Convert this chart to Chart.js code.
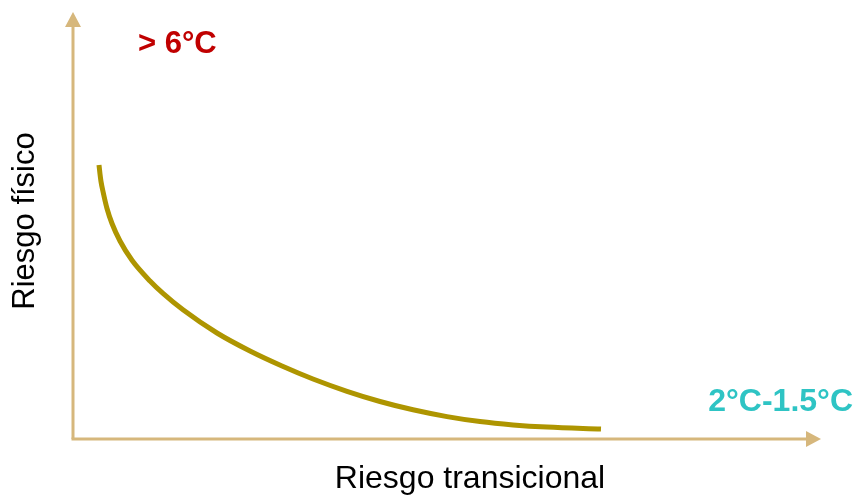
<!DOCTYPE html>
<html>
<head>
<meta charset="utf-8">
<script src="https://cdn.jsdelivr.net/npm/chart.js@4.4.0/dist/chart.umd.min.js"></script>
<style>
html,body{margin:0;padding:0;background:#fff;}
#wrap{width:854px;height:495px;position:relative;}
</style>
</head>
<body>
<div id="wrap"><canvas id="c" width="854" height="495"></canvas></div>
<script>
// Data (x: transition risk, y: physical risk, arbitrary units)
const riesgoTransicional = [26, 27, 28, 30, 34, 39, 47, 59, 77, 90, 110, 144, 177, 209, 240, 274, 307, 340, 374, 407, 440, 474, 528];
const riesgoFisico      = [274, 265, 257.5, 247.5, 230.5, 215.5, 198, 178.7, 158, 145.6, 129.2, 106, 88, 73, 60, 47.7, 37.5, 29.2, 22.4, 17.4, 14.1, 11.9, 10];
const xTitle = 'Riesgo transicional';
const yTitle = 'Riesgo físico';
const topLabel = '> 6°C';
const bottomLabel = '2°C-1.5°C';

const axisColor = '#D6B77C';
const points = riesgoTransicional.map((x, i) => ({x: x, y: riesgoFisico[i]}));

const decor = {
  id: 'decor',
  beforeDatasetsDraw(chart) {
    const {ctx, chartArea: a} = chart;
    ctx.save();
    ctx.strokeStyle = axisColor;
    ctx.fillStyle = axisColor;
    ctx.lineWidth = 3;
    // y axis
    ctx.beginPath();
    ctx.moveTo(a.left, a.bottom);
    ctx.lineTo(a.left, a.top + 14);
    ctx.stroke();
    ctx.beginPath();
    ctx.moveTo(a.left, a.top);
    ctx.lineTo(a.left - 8, a.top + 15);
    ctx.lineTo(a.left + 8, a.top + 15);
    ctx.closePath();
    ctx.fill();
    // x axis
    ctx.beginPath();
    ctx.moveTo(a.left - 1.5, a.bottom);
    ctx.lineTo(a.right - 14, a.bottom);
    ctx.stroke();
    ctx.beginPath();
    ctx.moveTo(a.right, a.bottom);
    ctx.lineTo(a.right - 15, a.bottom - 8);
    ctx.lineTo(a.right - 15, a.bottom + 8);
    ctx.closePath();
    ctx.fill();
    ctx.restore();
  },
  afterDraw(chart) {
    const {ctx} = chart;
    ctx.save();
    ctx.textBaseline = 'middle';
    ctx.font = 'bold 31px "Liberation Sans", Arial, sans-serif';
    ctx.fillStyle = '#C00000';
    ctx.textAlign = 'left';
    ctx.fillText(topLabel, 138, 44);
    ctx.font = 'bold 32px "Liberation Sans", Arial, sans-serif';
    ctx.fillStyle = '#2EC4C4';
    ctx.textAlign = 'right';
    ctx.fillText(bottomLabel, 853, 402);
    ctx.font = '32px "Liberation Sans", Arial, sans-serif';
    ctx.fillStyle = '#000';
    ctx.textAlign = 'center';
    ctx.fillText(xTitle, 470, 479);
    ctx.font = '31px "Liberation Sans", Arial, sans-serif';
    ctx.translate(25, 221);
    ctx.rotate(-Math.PI / 2);
    ctx.fillText(yTitle, 0, 0);
    ctx.restore();
  }
};

new Chart(document.getElementById('c'), {
  type: 'line',
  data: {
    datasets: [{
      data: points,
      borderColor: '#AE9500',
      borderWidth: 5,
      borderCapStyle: 'butt',
      borderJoinStyle: 'round',
      pointRadius: 0,
      fill: false,
      cubicInterpolationMode: 'monotone'
    }]
  },
  options: {
    responsive: false,
    animation: false,
    layout: {padding: {left: 73, top: 12, right: 33, bottom: 56}},
    plugins: {legend: {display: false}, tooltip: {enabled: false}},
    scales: {
      x: {type: 'linear', display: false, min: 0, max: 748},
      y: {type: 'linear', display: false, min: 0, max: 427}
    }
  },
  plugins: [decor]
});
</script>
</body>
</html>
